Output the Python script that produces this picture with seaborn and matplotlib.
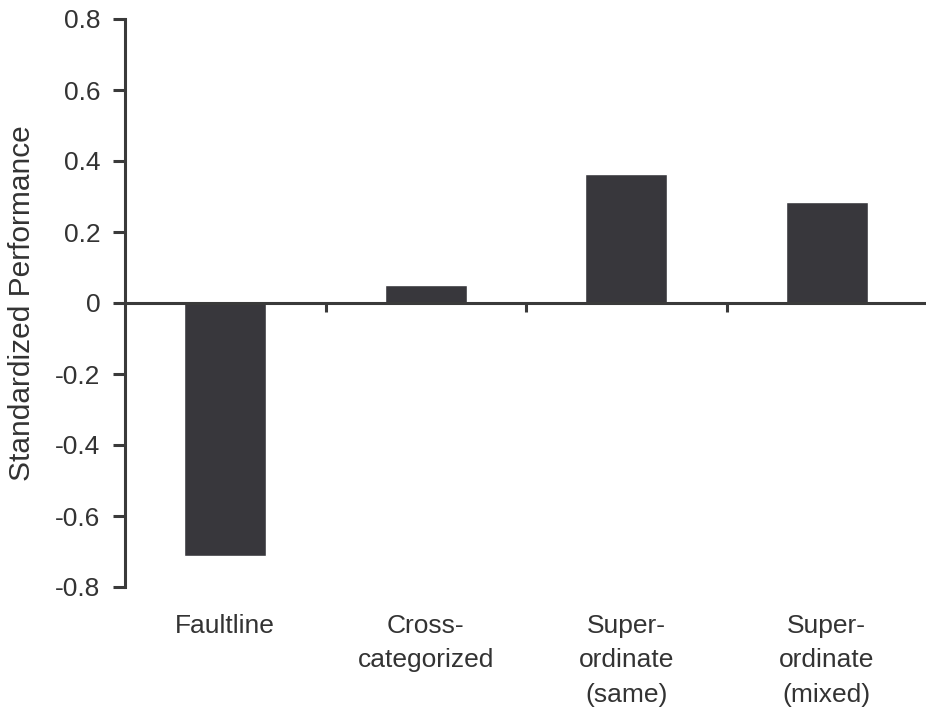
import numpy as np
import pandas as pd
import matplotlib
matplotlib.use('Agg')
import matplotlib.pyplot as plt
import seaborn as sns

# dados
categorias = ['Faultline', 'Cross-\ncategorized', 'Super-\nordinate\n(same)', 'Super-\nordinate\n(mixed)']
valores    = [-0.713, 0.052, 0.363, 0.284]
yticks     = [0.8, 0.6, 0.4, 0.2, 0.0, -0.2, -0.4, -0.6, -0.8]
ytick_lbl  = ['0.8', '0.6', '0.4', '0.2', '0', '-0.2', '-0.4', '-0.6', '-0.8']

sns.set_style('white')
plt.rcParams['font.family'] = ['Liberation Sans', 'DejaVu Sans']

cor_barra = '#38373c'
cor_eixo  = '#3a3a3a'
cor_texto = '#333333'

df = pd.DataFrame({'Condicao': categorias, 'Valor': valores})

fig = plt.figure(figsize=(9.26, 7.10), dpi=100)
ax = fig.add_axes([125 / 926, 123 / 710, 802 / 926, 568 / 710])

sns.barplot(data=df, x='Condicao', y='Valor', color=cor_barra, saturation=1,
            width=0.41, ax=ax, errorbar=None)

ax.set_xlim(-0.5, len(categorias) - 0.5)
ax.set_ylim(-0.8, 0.8)

# eixos
for s in ['top', 'right']:
    ax.spines[s].set_visible(False)
ax.spines['bottom'].set_position(('data', 0))
for s in ['left', 'bottom']:
    ax.spines[s].set_color(cor_eixo)
    ax.spines[s].set_linewidth(2.2)

ax.set_yticks(yticks)
ax.set_yticklabels(ytick_lbl)
ax.tick_params(axis='y', direction='out', length=8.6, width=2.2, color=cor_eixo,
               pad=9, labelsize=19, labelcolor=cor_texto, left=True)

# marcas do eixo x nos limites entre categorias
ax.set_xticks(np.arange(len(categorias) - 1) + 0.5)
ax.set_xticklabels([])
ax.tick_params(axis='x', direction='out', length=6.5, width=2.2, color=cor_eixo, bottom=True)
ax.set_xlabel('')

for i, nome in enumerate(categorias):
    ax.text(i, -0.875, nome, ha='center', va='top', fontsize=19, color=cor_texto,
            linespacing=1.57, clip_on=False)

ax.set_ylabel('Standardized Performance', fontsize=21.5, color=cor_texto, labelpad=14)

plt.savefig('out.png', dpi=100)
plt.close()
